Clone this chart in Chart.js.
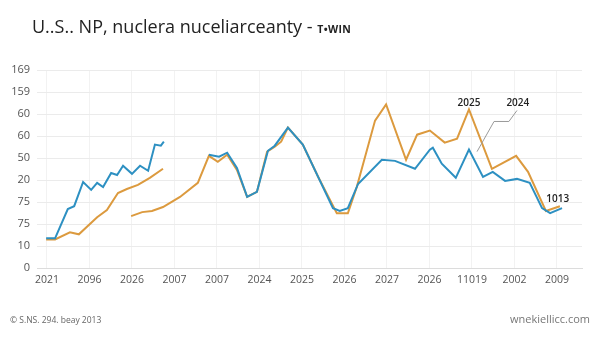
<!DOCTYPE html>
<html>
<head>
<meta charset="utf-8">
<script src="https://cdn.jsdelivr.net/npm/chart.js@4"></script>
<style>
    body { margin: 0; background: #fff; }
    #wrap { position: relative; width: 600px; height: 338px; overflow: hidden; }
    #title { position: absolute; left: 32px; top: 14px; font-family: "Open Sans", sans-serif; font-size: 18px; font-weight: 500; color: #222; white-space: nowrap; }
    #title small { font-size: 10.5px; font-weight: 700; letter-spacing: 0.3px; }
    #foot-left { position: absolute; left: 10px; top: 314px; font-family: "Open Sans", sans-serif; font-size: 8.5px; color: #666; }
    #foot-right { position: absolute; right: 10px; top: 311px; font-family: "Open Sans", sans-serif; font-size: 11px; color: #777; }
</style>
</head>
<body>
<div id="wrap">
    <canvas id="linechart_nuclear" width="600" height="338"></canvas>
    <div id="title">U..S.. NP, nuclera nuceliarceanty - <small>T•WIN</small></div>
    <div id="foot-left">© S.NS. 294. beay 2013</div>
    <div id="foot-right">wnekiellicc.com</div>
</div>
<script>
// axis labels as printed on the picture
const xLabels = ['2021', '2096', '2026', '2007', '2007', '2024', '2025', '2026', '2027', '2026', '11019', '2002', '2009'];
const yLabels = ['0', '10', '75', '75', '20', '50', '60', '60', '159', '169'];

// blue line, first part
const blueAX = [-0.02, 0.19, 0.49, 0.64, 0.85, 1.04, 1.18, 1.32, 1.51, 1.65, 1.79, 2.00, 2.19, 2.38, 2.54, 2.68, 2.75];
const blueAY = [1.35, 1.35, 2.68, 2.81, 3.91, 3.55, 3.87, 3.68, 4.32, 4.23, 4.65, 4.28, 4.65, 4.42, 5.61, 5.56, 5.74];

// blue line, second part
const blueBX = [3.81, 4.05, 4.24, 4.47, 4.71, 4.94, 5.20, 5.36, 5.67, 6.02, 6.73, 6.89, 7.08, 7.32, 7.88, 8.19, 8.66, 9.01, 9.08, 9.29, 9.62, 9.93, 10.26, 10.49, 10.78, 11.06, 11.36, 11.65, 11.84, 12.12];
const blueBY = [5.15, 5.06, 5.24, 4.55, 3.23, 3.46, 5.33, 5.56, 6.38, 5.61, 2.72, 2.59, 2.72, 3.82, 4.92, 4.87, 4.51, 5.38, 5.47, 4.74, 4.10, 5.38, 4.14, 4.37, 3.96, 4.05, 3.87, 2.72, 2.49, 2.72];

// orange line, first part
const orangeAX = [-0.02, 0.19, 0.54, 0.75, 1.18, 1.41, 1.67, 1.88, 2.14, 2.42, 2.73];
const orangeAY = [1.30, 1.30, 1.62, 1.53, 2.31, 2.63, 3.41, 3.59, 3.78, 4.10, 4.51];

// orange line, second part
const orangeBX = [1.98, 2.24, 2.47, 2.73, 3.13, 3.55, 3.81, 4.02, 4.24, 4.47, 4.71, 4.94, 5.18, 5.36, 5.51, 5.67, 6.02, 6.38, 6.82, 7.08, 7.29, 7.72, 7.98, 8.45, 8.71, 9.01, 9.36, 9.65, 9.93, 10.47, 11.04, 11.32, 11.74, 12.07];
const orangeBY = [2.36, 2.54, 2.59, 2.77, 3.23, 3.87, 5.10, 4.83, 5.15, 4.46, 3.23, 3.46, 5.29, 5.51, 5.74, 6.38, 5.61, 4.15, 2.49, 2.49, 3.68, 6.70, 7.44, 4.92, 6.06, 6.25, 5.70, 5.88, 7.21, 4.51, 5.10, 4.37, 2.59, 2.81];

// labels written inside the plot
const notes = [
    { text: '2025', x: 9.93, y: 7.48 },
    { text: '2024', x: 11.08, y: 7.48 },
    { text: '1013', x: 12.02, y: 3.13 }
];
const leaderX = [10.12, 10.52, 10.87, 11.06];
const leaderY = [5.29, 6.66, 6.66, 7.16];

const BLUE = '#2d90c2';
const ORANGE = '#dc9a3e';

const toPoints = (xs, ys) => xs.map((x, i) => ({ x: x, y: ys[i] }));

const makeSet = (xs, ys, color) => ({
    data: toPoints(xs, ys),
    borderColor: color,
    borderWidth: 2,
    pointRadius: 0,
    tension: 0,
    fill: false
});

// draws the text notes and the grey leader line
const notesPlugin = {
    id: 'notes',
    afterDatasetsDraw(chart) {
        const ctx = chart.ctx;
        const sx = chart.scales.x;
        const sy = chart.scales.y;
        ctx.save();
        ctx.strokeStyle = '#9a9a9a';
        ctx.lineWidth = 1;
        ctx.beginPath();
        leaderX.forEach((x, i) => {
            const px = sx.getPixelForValue(x);
            const py = sy.getPixelForValue(leaderY[i]);
            if (i === 0) ctx.moveTo(px, py); else ctx.lineTo(px, py);
        });
        ctx.stroke();
        ctx.fillStyle = '#222';
        ctx.font = '600 10px "Open Sans", sans-serif';
        ctx.textAlign = 'center';
        ctx.textBaseline = 'middle';
        notes.forEach(n => {
            ctx.fillText(n.text, sx.getPixelForValue(n.x), sy.getPixelForValue(n.y));
        });
        ctx.restore();
    }
};

new Chart('linechart_nuclear', {
    type: 'line',
    data: {
        datasets: [
            makeSet(blueAX, blueAY, BLUE),
            makeSet(blueBX, blueBY, BLUE),
            makeSet(orangeAX, orangeAY, ORANGE),
            makeSet(orangeBX, orangeBY, ORANGE)
        ]
    },
    options: {
        responsive: false,
        animation: false,
        layout: {
            padding: { left: 0, right: 18, top: 70, bottom: 50 }
        },
        plugins: {
            legend: { display: false },
            tooltip: { enabled: false }
        },
        scales: {
            x: {
                type: 'linear',
                min: -0.235,
                max: 12.59,
                afterBuildTicks: (axis) => {
                    axis.ticks = xLabels.map((_, i) => ({ value: i }));
                },
                afterFit: (axis) => { axis.height = 20; },
                border: { display: true, color: '#dcdcdc' },
                grid: { color: '#f2f2f2', drawTicks: false },
                ticks: {
                    padding: 6,
                    maxRotation: 0,
                    autoSkip: false,
                    color: '#555',
                    font: { family: 'Open Sans', size: 10.5 },
                    callback: (value) => xLabels[Math.round(value)]
                }
            },
            y: {
                min: 0,
                max: 9,
                afterFit: (axis) => { axis.width = 37; },
                border: { display: false },
                grid: { color: '#ebebeb', drawTicks: false },
                ticks: {
                    stepSize: 1,
                    padding: 7,
                    color: '#555',
                    font: { family: 'Open Sans', size: 11 },
                    callback: (value) => yLabels[value]
                }
            }
        }
    },
    plugins: [notesPlugin]
});
</script>
</body>
</html>
